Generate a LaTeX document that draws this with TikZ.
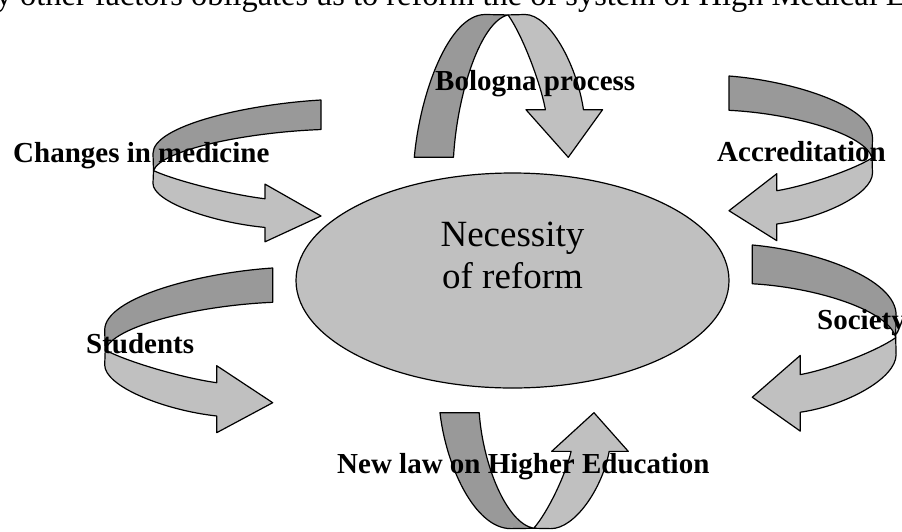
\documentclass[tikz,border=0pt]{standalone}
\usepackage{fontspec}
\setmainfont{Liberation Serif}
\usetikzlibrary{shapes.geometric}
\definecolor{bandlight}{RGB}{192,192,192}
\definecolor{banddark}{RGB}{153,153,153}
\tikzset{
  outline/.style={draw=black, line width=1.2pt, line join=round},
  lightpart/.style={outline, fill=bandlight},
  darkpart/.style={outline, fill=banddark},
  factor/.style={anchor=base west, inner sep=0pt, font=\bfseries\fontsize{29}{34}\selectfont},
  bigtext/.style={anchor=base, inner sep=0pt, font=\fontsize{37}{42}\selectfont},
}
% A twisted ribbon arrow: tail at the origin, band sweeping to the left,
% head coming back and pointing right. #1 is the placement matrix.
\newcommand{\twistarrow}[1]{%
  \begin{scope}[cm={#1}]
    \filldraw[lightpart] (-167.5,82) .. controls (-145,94) and (-90,110) .. (-56,114.7)
      -- (-56,97.7) -- (0,134.7) -- (-56,164.7) -- (-56,148)
      .. controls (-110,142) and (-168,118) .. (-168,97) -- cycle;
    \filldraw[darkpart] (0,0) .. controls (-75,5) and (-168,30) .. (-168,62)
      -- (-167.5,82) .. controls (-160,58) and (-75,37.5) .. (0,34.3) -- cycle;
  \end{scope}}
\begin{document}
\begin{tikzpicture}[x=1pt, y=-1pt]
  \useasboundingbox (0,0) rectangle (902,531);
  \fill[white] (0,0) rectangle (902,531);
  \clip (0,0) rectangle (902,531);

  % running text line at the top edge
  \node[anchor=base west, inner sep=0pt, font=\fontsize{32.4}{38}\selectfont] (intro) at (-4.3,5)
    {y other factors obligates us to reform the of system of High Medical Education};

  % the six ribbon arrows
  \twistarrow{1,0,0,0.861,(321,100)}            % changes in medicine
  \twistarrow{1,0,0,1,(272.7,268)}              % students
  \twistarrow{-0.854,0,0,1,(729,76)}            % accreditation
  \twistarrow{-0.856,0,0,1.13,(752.3,245)}      % society
  \twistarrow{0,-0.85,-1.143,0,(414.3,157.3)}   % bologna process
  \twistarrow{0,0.69,-1.143,0,(440,412.7)}      % new law

  % central ellipse
  \node[ellipse, draw, line width=1.2pt, fill=bandlight, minimum width=433pt,
        minimum height=215pt, inner sep=0pt] (reform) at (512.5,280.5) {};
  \node[bigtext] (necessity) at (512.5,246) {Necessity};
  \node[bigtext] (ofreform) at (512.5,288.3) {of reform};

  % factor labels
  \node[factor] (bologna) at (435,90) {Bologna process};
  \node[factor] (medicine) at (13,162) {Changes in medicine};
  \node[factor] (accred) at (717,161) {Accreditation};
  \node[factor] (society) at (817,329) {Society};
  \node[factor] (students) at (86,353) {Students};
  \node[factor] (newlaw) at (337,473) {New law on Higher Education};
\end{tikzpicture}
\end{document}
